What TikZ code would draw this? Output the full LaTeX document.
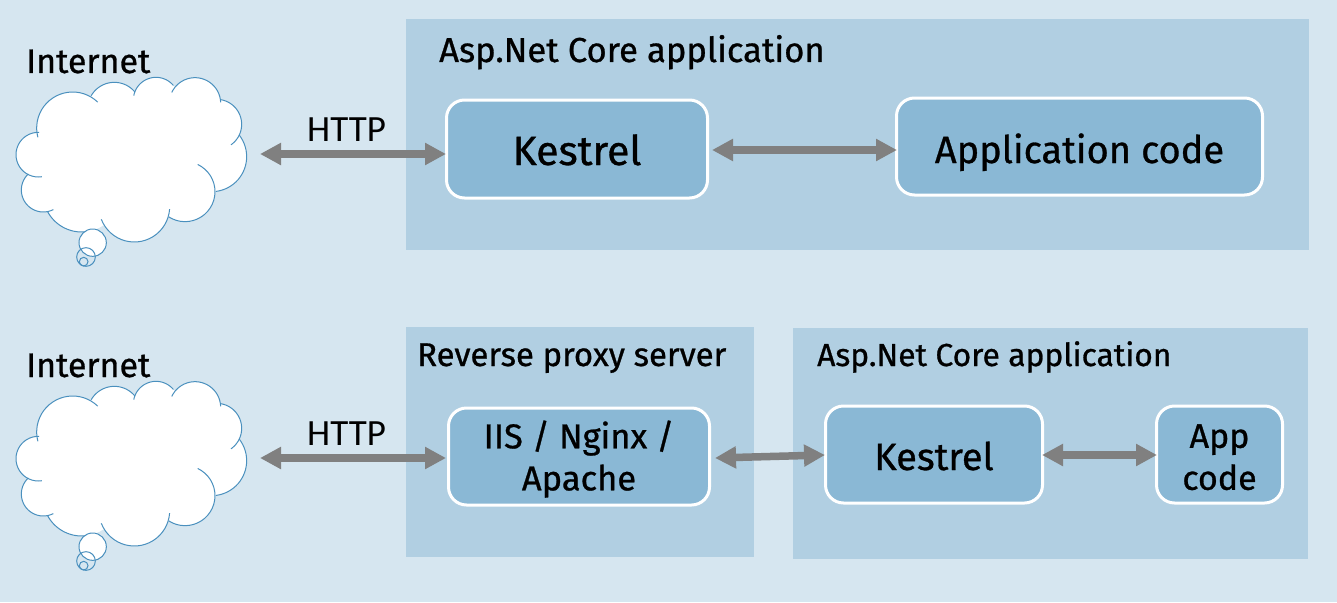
\documentclass[tikz,border=0pt]{standalone}
\usepackage{fontspec}
\setmainfont{Fira Sans}[FakeBold=0.8]
\newfontfamily\httpfont{Carlito}
\usetikzlibrary{arrows.meta}
\definecolor{bgc}{HTML}{D6E6F0}
\definecolor{panelc}{HTML}{B1CFE2}
\definecolor{boxc}{HTML}{8AB8D5}
\definecolor{cloudc}{HTML}{4A90BE}
\definecolor{arrowc}{HTML}{808080}
\tikzset{
  panel/.style={fill=panelc,draw=none},
  boxn/.style={draw=white,line width=3pt,fill=boxc,rounded corners=18pt,inner sep=0pt,outer sep=0pt,anchor=north west,align=center,font=\fontsize{34.5}{42}\selectfont},
  link/.style={draw=arrowc,line width=7.5pt,{Triangle[length=21pt,width=21pt]}-{Triangle[length=21pt,width=21pt]},shorten >=0pt,shorten <=0pt},
  txt/.style={anchor=base west,inner sep=0pt,text=black},
  cloudarc/.style={draw=cloudc,line width=1pt},
}
\newcommand{\lobefill}[3]{\fill[white] ({#1/3},{#2/3+30}) circle ({#3/3});}
\newcommand{\lobeline}[5]{\draw[cloudarc] plot[smooth,domain=#4:#5,samples=24] ({(#1+#3*cos(\x))/3},{(#2+#3*sin(\x))/3+30});}
\newcommand{\cloudshape}{%
  \lobefill{115}{374}{67}\lobefill{218}{294}{108}\lobefill{343}{237}{80}\lobefill{468}{210}{68}
  \lobefill{585}{220}{77}\lobefill{650}{283}{75}\lobefill{635}{380}{105}\lobefill{555}{485}{90}
  \lobefill{403}{530}{106}\lobefill{245}{490}{116}\lobefill{130}{480}{66}
  \fill[white] (150/3,210/3+30) rectangle (640/3,500/3+30);
  \lobeline{115}{374}{67}{81}{272}
  \lobeline{218}{294}{108}{165}{314}
  \lobeline{343}{237}{80}{210}{320}
  \lobeline{468}{210}{68}{191}{320}
  \lobeline{585}{220}{77}{205}{358}
  \lobeline{650}{283}{75}{279}{415}
  \lobeline{635}{380}{105}{-38}{83}
  \lobeline{555}{485}{90}{-65}{123}
  \lobeline{403}{530}{106}{4}{159}
  \lobeline{245}{490}{116}{82}{152}
  \lobeline{130}{480}{66}{63}{227}
  \draw[cloudarc,fill=white] (278/3,638/3+30) circle (41/3);
  \draw[cloudarc] (258/3,681/3+30) circle (28/3);
  \draw[cloudarc] (251/3,695/3+30) circle (13/3);
}
\newcommand{\oneline}[2]{\rule{0pt}{#1pt}\smash{#2}}
\begin{document}
\begin{tikzpicture}[x=1pt,y=-1pt]
\useasboundingbox (0,0) rectangle (1337,602);
\fill[bgc] (0,0) rectangle (1337,602);
\fill[panel] (406,19) rectangle (1309,250);
\fill[panel] (406,327) rectangle (754,557);
\fill[panel] (793,328) rectangle (1308,559);

\begin{scope}\cloudshape\end{scope}
\begin{scope}[yshift=-304pt]\cloudshape\end{scope}

\node[boxn,minimum width=261pt,minimum height=98pt,font=\fontsize{41}{42}\selectfont] (k1) at (446.5,100) {\oneline{32}{Kestrel}};
\node[boxn,minimum width=366pt,minimum height=97pt,font=\fontsize{38}{42}\selectfont] (ac) at (896.5,98) {\oneline{33}{Application code}};
\node[boxn,minimum width=261pt,minimum height=97pt] (iis) at (448.5,408) {\rule{0pt}{33pt}IIS / Nginx /\\Apache};
\node[boxn,minimum width=217pt,minimum height=97pt,font=\fontsize{38}{42}\selectfont] (k2) at (825.5,406) {\oneline{31}{Kestrel}};
\node[boxn,minimum width=126pt,minimum height=97pt,font=\fontsize{34}{42}\selectfont] (app) at (1156.5,406) {\rule{0pt}{29pt}App\\code};

\coordinate (net1) at (260,154);
\coordinate (net2) at (260,458);
\coordinate (k1r) at (712,150);
\coordinate (acl) at (897,150);
\coordinate (k1l) at (446,154);
\coordinate (iisl) at (446,458);
\coordinate (iisr) at (715,458);
\coordinate (k2l) at (825,455);
\coordinate (k2r) at (1042,455);
\coordinate (appl) at (1157,455);
\draw[link] (net1) -- (k1l);
\draw[link] (k1r) -- (acl);
\draw[link] (net2) -- (iisl);
\draw[link] (iisr) -- (k2l);
\draw[link] (k2r) -- (appl);

\node[txt,font=\fontsize{34}{40}\selectfont] (i1) at (26,73) {Internet};
\node[txt,font=\fontsize{34}{40}\selectfont] (i2) at (26,377) {Internet};
\node[txt,font=\httpfont\fontsize{37}{40}\selectfont] (h1) at (307,141) {HTTP};
\node[txt,font=\httpfont\fontsize{37}{40}\selectfont] (h2) at (307,445) {HTTP};
\node[txt,font=\fontsize{34.6}{40}\selectfont] (t1) at (439,62) {Asp.Net Core application};
\node[txt,font=\fontsize{32.9}{40}\selectfont] (t2) at (417,366) {Reverse proxy server};
\node[txt,font=\fontsize{31.8}{40}\selectfont] (t3) at (817,366) {Asp.Net Core application};
\end{tikzpicture}
\end{document}
